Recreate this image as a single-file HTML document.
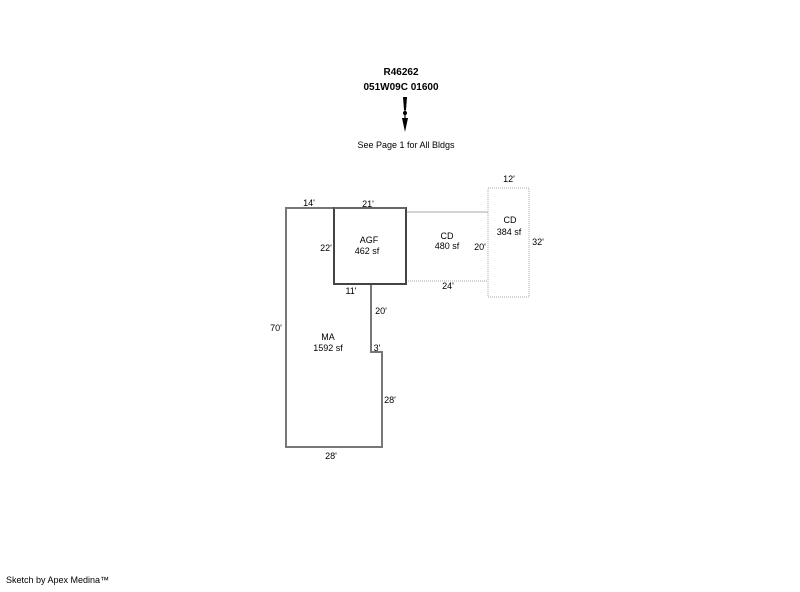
<!DOCTYPE html>
<html><head><style>
body{margin:0;background:#fff;}
svg text{font-family:"Liberation Sans",sans-serif;font-size:9px;fill:#000;}
</style></head><body>
<svg width="800" height="587" viewBox="0 0 800 587" xmlns="http://www.w3.org/2000/svg">
<rect width="800" height="587" fill="#fff"/>
<text x="401" y="75" text-anchor="middle" font-weight="bold" style="font-size:10px">R46262</text>
<text x="401" y="90" text-anchor="middle" font-weight="bold" style="font-size:10px">051W09C 01600</text>
<g fill="#000">
<polygon points="403,97 407,97 406,110 404,110"/>
<circle cx="405" cy="113" r="2"/>
<rect x="404.4" y="104" width="1.2" height="18"/>
<polygon points="402,118 408,118 405,132"/>
</g>
<text x="406" y="148" text-anchor="middle">See Page 1 for All Bldgs</text>
<!-- CD dotted -->
<g stroke="#bbb" stroke-width="1.2" fill="none">
<line x1="406" y1="212" x2="488" y2="212"/>
<line x1="406" y1="281" x2="488" y2="281" stroke-dasharray="1,1"/>
<rect x="488" y="188" width="41" height="109" stroke-dasharray="1,1"/>
</g>
<!-- MA -->
<polyline points="334,208 286,208 286,447 382,447 382,352 371,352 371,284" fill="none" stroke="#777" stroke-width="2"/>
<!-- AGF -->
<rect x="334" y="208" width="72" height="76" fill="none" stroke="#444" stroke-width="2"/>
<line x1="334" y1="208" x2="406" y2="208" stroke="#666" stroke-width="2"/>
<text x="309" y="206" text-anchor="middle">14'</text>
<text x="368" y="207" text-anchor="middle">21'</text>
<text x="509" y="182" text-anchor="middle">12'</text>
<text x="369" y="243" text-anchor="middle">AGF</text>
<text x="367" y="254" text-anchor="middle">462 sf</text>
<text x="326" y="251" text-anchor="middle">22'</text>
<text x="447" y="239" text-anchor="middle">CD</text>
<text x="447" y="249" text-anchor="middle">480 sf</text>
<text x="480" y="250" text-anchor="middle">20'</text>
<text x="510" y="223" text-anchor="middle">CD</text>
<text x="509" y="235" text-anchor="middle">384 sf</text>
<text x="538" y="245" text-anchor="middle">32'</text>
<text x="448" y="289" text-anchor="middle">24'</text>
<text x="351" y="294" text-anchor="middle">11'</text>
<text x="381" y="314" text-anchor="middle">20'</text>
<text x="276" y="331" text-anchor="middle">70'</text>
<text x="328" y="340" text-anchor="middle">MA</text>
<text x="328" y="351" text-anchor="middle">1592 sf</text>
<text x="377" y="351" text-anchor="middle">3'</text>
<text x="390" y="403" text-anchor="middle">28'</text>
<text x="331" y="459" text-anchor="middle">28'</text>
<text x="6" y="583">Sketch by Apex Medina™</text>
</svg>
</body></html>
